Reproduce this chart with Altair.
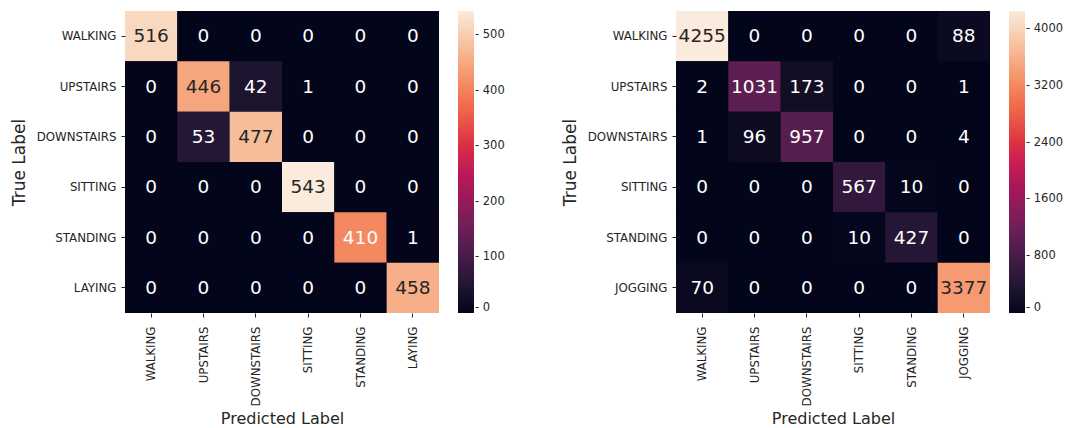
import altair as alt
import pandas as pd

# ---- data ----
classes_left = ["WALKING", "UPSTAIRS", "DOWNSTAIRS", "SITTING", "STANDING", "LAYING"]
counts_left = [
    [516, 0, 0, 0, 0, 0],
    [0, 446, 42, 1, 0, 0],
    [0, 53, 477, 0, 0, 0],
    [0, 0, 0, 543, 0, 0],
    [0, 0, 0, 0, 410, 1],
    [0, 0, 0, 0, 0, 458],
]
classes_right = ["WALKING", "UPSTAIRS", "DOWNSTAIRS", "SITTING", "STANDING", "JOGGING"]
counts_right = [
    [4255, 0, 0, 0, 0, 88],
    [2, 1031, 173, 0, 0, 1],
    [1, 96, 957, 0, 0, 4],
    [0, 0, 0, 567, 10, 0],
    [0, 0, 0, 10, 427, 0],
    [70, 0, 0, 0, 0, 3377],
]
legend_ticks_left = [0, 100, 200, 300, 400, 500]
legend_ticks_right = [0, 800, 1600, 2400, 3200, 4000]

# seaborn "rocket" colormap stops
rocket = ["#03051a", "#35193e", "#701f57", "#ad1759", "#e13342", "#f37651", "#f6b48f", "#faebdd"]

FONT = "DejaVu Sans"
TXT = "#262626"


def to_df(classes, counts):
    rows = []
    for i, t in enumerate(classes):
        for j, p in enumerate(classes):
            rows.append({"true": t, "pred": p, "count": counts[i][j]})
    return pd.DataFrame(rows)


def panel(classes, counts, ticks):
    df = to_df(classes, counts)
    vmax = max(max(r) for r in counts)
    n = len(rocket) - 1
    domain = [vmax * k / n for k in range(n + 1)]
    base = alt.Chart(df).encode(
        x=alt.X(
            "pred:N",
            sort=classes,
            title="Predicted Label",
            scale=alt.Scale(paddingInner=0, paddingOuter=0),
            axis=alt.Axis(labelAngle=270, labelPadding=9, titlePadding=5, titleFontSize=16),
        ),
        y=alt.Y(
            "true:N",
            sort=classes,
            title="True Label",
            scale=alt.Scale(paddingInner=0, paddingOuter=0),
            axis=alt.Axis(labelPadding=5, titlePadding=8, titleFontSize=17),
        ),
    )
    rect = base.mark_rect().encode(
        color=alt.Color(
            "count:Q",
            scale=alt.Scale(domain=domain, range=rocket, nice=False),
            legend=alt.Legend(
                type="gradient",
                title=None,
                values=ticks,
                format="d",
                orient="right",
                direction="vertical",
                offset=19,
                padding=0,
                gradientLength=302,
                gradientThickness=16,
                gradientStrokeWidth=0,
                labelFont=FONT,
                labelFontSize=11.5,
                labelColor=TXT,
                labelOffset=1,
                labelOverlap=False,
                labelBaseline="middle",
                labelExpr="'- ' + datum.label",
            ),
        )
    )
    text = (
        base.transform_joinaggregate(vmax="max(count)")
        .transform_calculate(ratio="datum.count / datum.vmax")
        .mark_text(font=FONT, fontSize=18.5, baseline="middle", align="center")
        .encode(
            text=alt.Text("count:Q", format="d"),
            color=alt.condition("datum.ratio > 0.77", alt.value(TXT), alt.value("white")),
        )
    )
    return alt.layer(rect, text).properties(width=314, height=302)


left = panel(classes_left, counts_left, legend_ticks_left)
right = panel(classes_right, counts_right, legend_ticks_right)

chart = (
    alt.hconcat(left, right, spacing=56)
    .resolve_scale(color="independent")
    .properties(padding={"left": 10, "top": 11, "right": 0, "bottom": 0})
    .configure_view(strokeWidth=0, fill=rocket[0])
    .configure_axis(
        domain=False,
        grid=False,
        tickSize=4,
        tickWidth=1,
        tickColor=TXT,
        labelFont=FONT,
        labelFontSize=11.8,
        labelColor=TXT,
        titleFont=FONT,
        titleFontWeight="normal",
        titleColor=TXT,
    )
)

chart.save("out.html", embed_options={"renderer": "svg", "actions": False})
